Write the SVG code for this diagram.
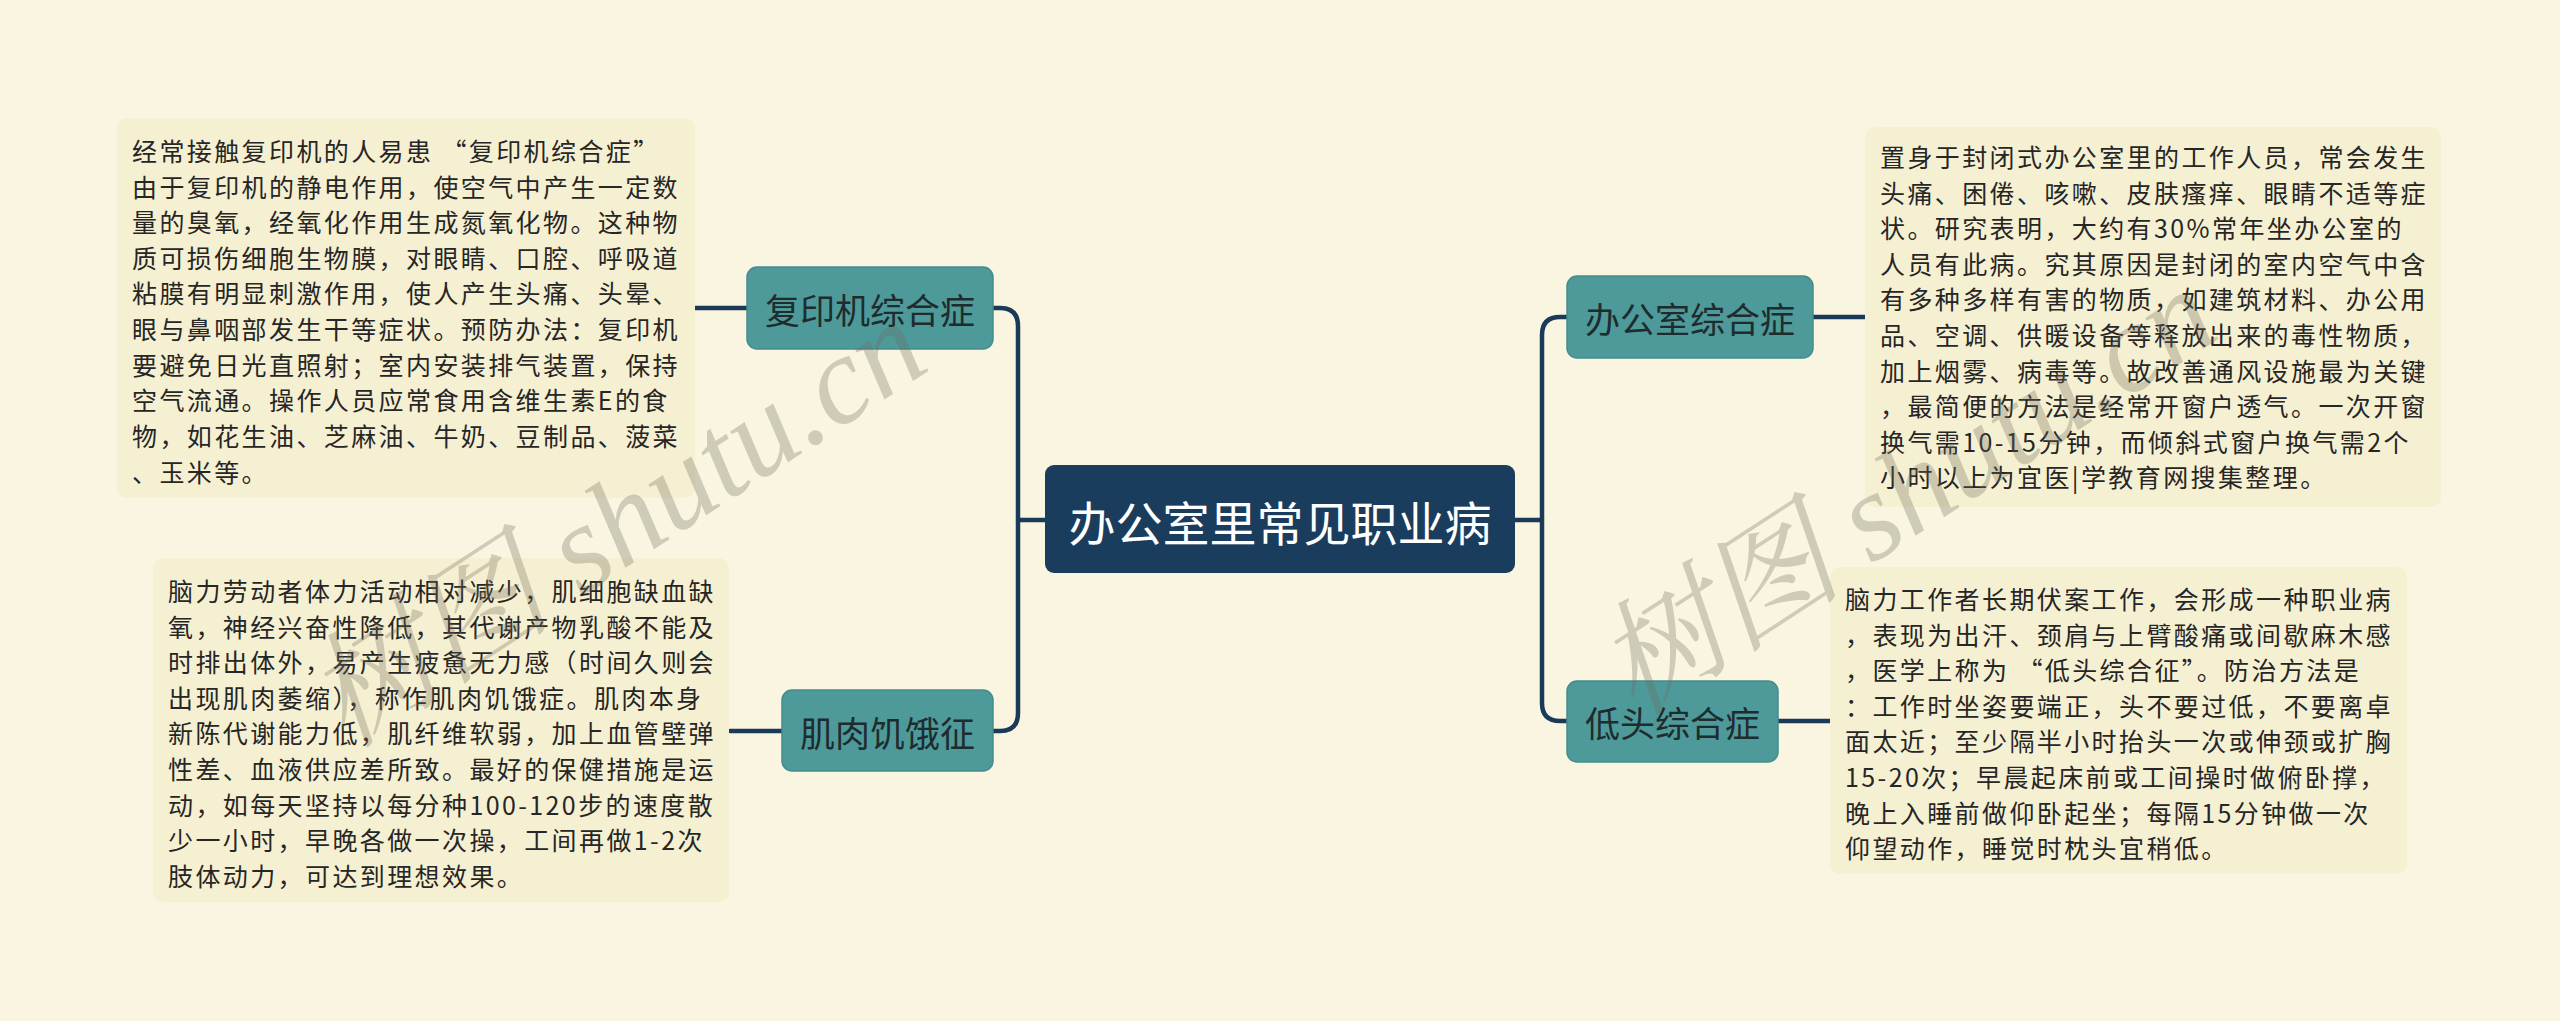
<svg xmlns="http://www.w3.org/2000/svg" width="2560" height="1021" viewBox="0 0 2560 1021">
<style>
.bg{fill:#FAF5E1}
.box{fill:#F6F0D2}
.bt{font-family:"Noto Sans CJK SC","Noto Sans",sans-serif;font-size:25px;letter-spacing:2.4px;fill:#262626}
.node{fill:#4E9A9A;stroke:#448C8C;stroke-width:1.5}
.nt{font-family:"Noto Sans CJK SC","Noto Sans",sans-serif;font-size:35px;fill:#1F2C2E;text-anchor:middle;dominant-baseline:central}
.root{fill:#1B3D5D}
.rt{font-family:"Noto Sans CJK SC","Noto Sans",sans-serif;font-size:47px;fill:#FFFFFF;text-anchor:middle;dominant-baseline:central}
.ln{fill:none;stroke:#1B3A57;stroke-width:4.5;stroke-linecap:round}
.wm{font-family:"Liberation Serif","Noto Serif CJK SC","Noto Sans CJK SC",serif;font-style:italic;font-size:125px;fill:#6E6A5E;fill-opacity:0.3}
</style>
<rect class="bg" x="0" y="0" width="2560" height="1021"/>
<g id="connectors">
<path class="ln" d="M993,308 H1000 Q1018,308 1018,326 V713 Q1018,731 1000,731 H993"/>
<path class="ln" d="M1018,520 H1045"/>
<path class="ln" d="M1567,317 H1560 Q1542,317 1542,335 V703 Q1542,721 1560,721 H1567"/>
<path class="ln" d="M1515,520 H1542"/>
<path class="ln" d="M695,308 H747"/>
<path class="ln" d="M730,731 H782"/>
<path class="ln" d="M1813,317 H1865"/>
<path class="ln" d="M1778,721 H1830"/>
</g>
<g id="root">
<rect class="root" x="1045" y="465" width="470" height="108" rx="9"/>
<text class="rt" x="1280" y="520">办公室里常见职业病</text>
</g>
<g id="n-fuyinji">
<rect class="node" x="747" y="267" width="246" height="82" rx="10"/>
<text class="nt" x="870" y="308">复印机综合症</text>
</g>
<g id="n-jirou">
<rect class="node" x="782" y="690" width="211" height="81" rx="10"/>
<text class="nt" x="887.5" y="731">肌肉饥饿征</text>
</g>
<g id="n-bangongshi">
<rect class="node" x="1567" y="276" width="246" height="82" rx="10"/>
<text class="nt" x="1690" y="317">办公室综合症</text>
</g>
<g id="n-ditou">
<rect class="node" x="1567" y="681" width="211" height="81" rx="10"/>
<text class="nt" x="1672.5" y="721">低头综合症</text>
</g>
<g id="d-fuyinji">
<rect class="box" x="117" y="118" width="578" height="380" rx="10"/>
<text class="bt" x="132">
<tspan x="132" y="161">经常接触复印机的人易患 “复印机综合症”</tspan>
<tspan x="132" y="197">由于复印机的静电作用，使空气中产生一定数</tspan>
<tspan x="132" y="232">量的臭氧，经氧化作用生成氮氧化物。这种物</tspan>
<tspan x="132" y="268">质可损伤细胞生物膜，对眼睛、口腔、呼吸道</tspan>
<tspan x="132" y="303">粘膜有明显刺激作用，使人产生头痛、头晕、</tspan>
<tspan x="132" y="339">眼与鼻咽部发生干等症状。预防办法：复印机</tspan>
<tspan x="132" y="375">要避免日光直照射；室内安装排气装置，保持</tspan>
<tspan x="132" y="410">空气流通。操作人员应常食用含维生素E的食</tspan>
<tspan x="132" y="446">物，如花生油、芝麻油、牛奶、豆制品、菠菜</tspan>
<tspan x="132" y="482">、玉米等。</tspan>
</text>
</g>
<g id="d-jirou">
<rect class="box" x="153" y="558" width="576" height="344" rx="10"/>
<text class="bt">
<tspan x="168" y="601">脑力劳动者体力活动相对减少，肌细胞缺血缺</tspan>
<tspan x="168" y="637">氧，神经兴奋性降低，其代谢产物乳酸不能及</tspan>
<tspan x="168" y="672">时排出体外，易产生疲惫无力感（时间久则会</tspan>
<tspan x="168" y="708">出现肌肉萎缩），称作肌肉饥饿症。肌肉本身</tspan>
<tspan x="168" y="743">新陈代谢能力低，肌纤维软弱，加上血管壁弹</tspan>
<tspan x="168" y="779">性差、血液供应差所致。最好的保健措施是运</tspan>
<tspan x="168" y="815">动，如每天坚持以每分种100-120步的速度散</tspan>
<tspan x="168" y="850">少一小时，早晚各做一次操，工间再做1-2次</tspan>
<tspan x="168" y="886">肢体动力，可达到理想效果。</tspan>
</text>
</g>
<g id="d-bangongshi">
<rect class="box" x="1865" y="127" width="576" height="380" rx="10"/>
<text class="bt">
<tspan x="1880" y="167">置身于封闭式办公室里的工作人员，常会发生</tspan>
<tspan x="1880" y="203">头痛、困倦、咳嗽、皮肤瘙痒、眼睛不适等症</tspan>
<tspan x="1880" y="238">状。研究表明，大约有30%常年坐办公室的</tspan>
<tspan x="1880" y="274">人员有此病。究其原因是封闭的室内空气中含</tspan>
<tspan x="1880" y="309">有多种多样有害的物质，如建筑材料、办公用</tspan>
<tspan x="1880" y="345">品、空调、供暖设备等释放出来的毒性物质，</tspan>
<tspan x="1880" y="381">加上烟雾、病毒等。故改善通风设施最为关键</tspan>
<tspan x="1880" y="416">，最简便的方法是经常开窗户透气。一次开窗</tspan>
<tspan x="1880" y="452">换气需10-15分钟，而倾斜式窗户换气需2个</tspan>
<tspan x="1880" y="487">小时以上为宜医|学教育网搜集整理。</tspan>
</text>
</g>
<g id="d-ditou">
<rect class="box" x="1830" y="567" width="577" height="307" rx="10"/>
<text class="bt">
<tspan x="1845" y="609">脑力工作者长期伏案工作，会形成一种职业病</tspan>
<tspan x="1845" y="645">，表现为出汗、颈肩与上臂酸痛或间歇麻木感</tspan>
<tspan x="1845" y="680">，医学上称为 “低头综合征”。防治方法是</tspan>
<tspan x="1845" y="716">：工作时坐姿要端正，头不要过低，不要离卓</tspan>
<tspan x="1845" y="751">面太近；至少隔半小时抬头一次或伸颈或扩胸</tspan>
<tspan x="1845" y="787">15-20次；早晨起床前或工间操时做俯卧撑，</tspan>
<tspan x="1845" y="823">晚上入睡前做仰卧起坐；每隔15分钟做一次</tspan>
<tspan x="1845" y="858">仰望动作，睡觉时枕头宜稍低。</tspan>
</text>
</g>
<g id="watermarks">
<text class="wm" transform="translate(345,750) rotate(-33)">树图 shutu.cn</text>
<text class="wm" transform="translate(1635,718) rotate(-33)">树图 shutu.cn</text>
</g>
</svg>
